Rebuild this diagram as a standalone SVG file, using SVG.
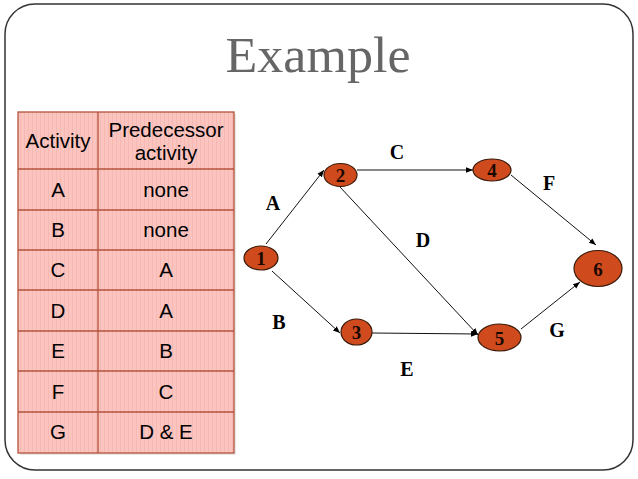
<svg xmlns="http://www.w3.org/2000/svg" width="638" height="479" viewBox="0 0 638 479">
<defs>
<marker id="arr" viewBox="0 0 10 10" refX="10" refY="5" markerWidth="7" markerHeight="7" markerUnits="userSpaceOnUse" orient="auto">
<path d="M0,1 L10,5 L0,9 z" fill="#000"/>
</marker>
<pattern id="stripe" width="4" height="4" patternUnits="userSpaceOnUse">
<rect width="4" height="4" fill="#fbc4bf"/>
<rect width="1" height="4" fill="#f5b8b3"/>
</pattern>
</defs>
<style>
.tbl{font-family:"Liberation Sans",Arial,sans-serif;font-size:20.5px;fill:#000;text-anchor:middle}
.grid{stroke:#b3533c;stroke-width:1.3;fill:none}
.node ellipse{fill:#cf4b1d;stroke:#3a1a0a;stroke-width:1.2}
.node text{font-family:"Liberation Serif","Times New Roman",serif;font-weight:bold;font-size:19px;fill:#1a0800;text-anchor:middle}
.lbl{font-family:"Liberation Serif","Times New Roman",serif;font-weight:bold;font-size:20px;fill:#000;text-anchor:middle}
.edge{stroke:#111;stroke-width:1;fill:none;marker-end:url(#arr)}
</style>
<rect width="638" height="479" fill="#fff"/>
<rect x="5" y="4" width="628" height="466" rx="30" ry="30" fill="#fff" stroke="#333" stroke-width="1.5"/>
<text x="318" y="72" font-family="'Liberation Serif','Times New Roman',serif" font-size="50" fill="#666" text-anchor="middle" textLength="185" lengthAdjust="spacingAndGlyphs">Example</text>
<g id="table">
<rect x="20" y="114" width="216" height="341" fill="#d9d9d9" opacity="0.6"/>
<rect x="18" y="112" width="216" height="341" fill="url(#stripe)"/>
<rect x="18" y="112" width="216" height="341" class="grid"/>
<line x1="98" y1="112" x2="98" y2="453" class="grid"/>
<line x1="18" y1="169" x2="234" y2="169" class="grid"/>
<line x1="18" y1="210" x2="234" y2="210" class="grid"/>
<line x1="18" y1="250" x2="234" y2="250" class="grid"/>
<line x1="18" y1="290" x2="234" y2="290" class="grid"/>
<line x1="18" y1="331" x2="234" y2="331" class="grid"/>
<line x1="18" y1="371" x2="234" y2="371" class="grid"/>
<line x1="18" y1="412" x2="234" y2="412" class="grid"/>
<text class="tbl" x="58" y="148">Activity</text>
<text class="tbl" x="166" y="137">Predecessor</text>
<text class="tbl" x="166" y="160">activity</text>
<text class="tbl" x="58" y="197">A</text><text class="tbl" x="166" y="197">none</text>
<text class="tbl" x="58" y="237">B</text><text class="tbl" x="166" y="237">none</text>
<text class="tbl" x="58" y="277">C</text><text class="tbl" x="166" y="277">A</text>
<text class="tbl" x="58" y="318">D</text><text class="tbl" x="166" y="318">A</text>
<text class="tbl" x="58" y="358">E</text><text class="tbl" x="166" y="358">B</text>
<text class="tbl" x="58" y="399">F</text><text class="tbl" x="166" y="399">C</text>
<text class="tbl" x="58" y="439">G</text><text class="tbl" x="166" y="439">D &amp; E</text>
</g>
<g id="connectors">
<line class="edge" x1="266" y1="244" x2="324" y2="170"/>
<line class="edge" x1="357" y1="170" x2="473" y2="170"/>
<line class="edge" x1="340" y1="187" x2="478" y2="335"/>
<line class="edge" x1="272" y1="271" x2="340" y2="333"/>
<line class="edge" x1="372" y1="333" x2="478" y2="334"/>
<line class="edge" x1="511" y1="175" x2="596" y2="245"/>
<line class="edge" x1="521" y1="329" x2="580" y2="282"/>
<text class="lbl" x="273" y="210">A</text>
<text class="lbl" x="279" y="329">B</text>
<text class="lbl" x="397" y="159">C</text>
<text class="lbl" x="423" y="247">D</text>
<text class="lbl" x="407" y="376">E</text>
<text class="lbl" x="549" y="190">F</text>
<text class="lbl" x="557" y="337">G</text>
</g>
<g id="n1" class="node"><ellipse cx="261" cy="258" rx="17" ry="12"/><text x="261" y="265">1</text></g>
<g id="n2" class="node"><ellipse cx="340.5" cy="175" rx="16.5" ry="11.5"/><text x="340.5" y="182">2</text></g>
<g id="n3" class="node"><ellipse cx="356.5" cy="332" rx="15.5" ry="13"/><text x="356.5" y="339">3</text></g>
<g id="n4" class="node"><ellipse cx="492" cy="170" rx="19" ry="11"/><text x="492" y="177">4</text></g>
<g id="n5" class="node"><ellipse cx="499.5" cy="337.5" rx="21.5" ry="13.5"/><text x="499.5" y="345">5</text></g>
<g id="n6" class="node"><ellipse cx="598" cy="268.5" rx="24" ry="18"/><text x="598" y="276">6</text></g>
</svg>
